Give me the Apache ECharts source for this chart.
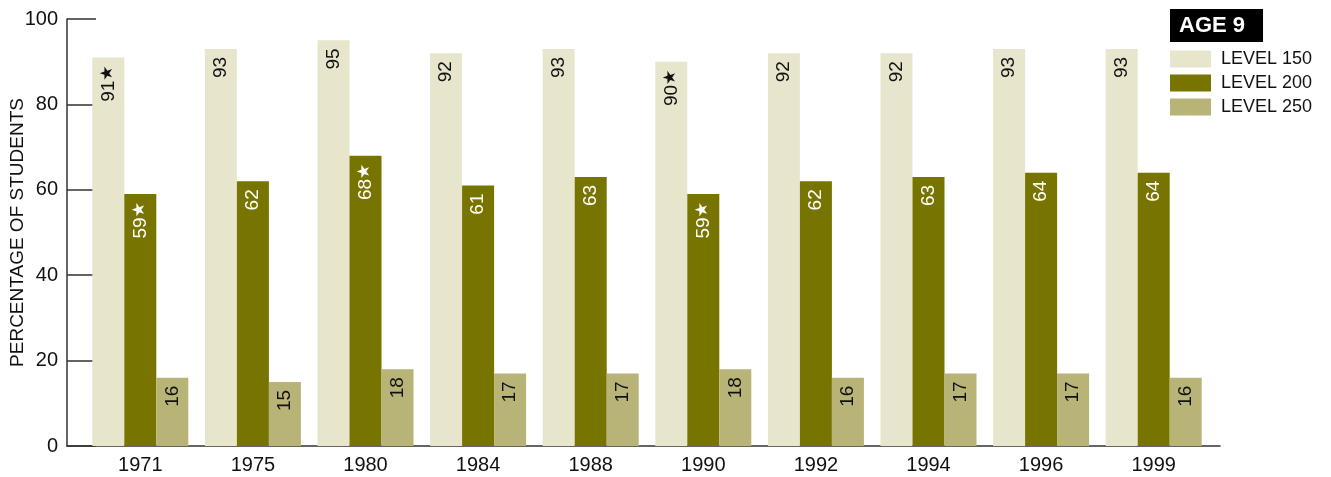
<!DOCTYPE html>
<html>
<head>
<meta charset="utf-8">
<script src="https://cdn.jsdelivr.net/npm/echarts@6/dist/echarts.min.js"></script>
<style>
html,body{margin:0;padding:0;background:#fff;}
#c{width:1331px;height:477px;}
</style>
</head>
<body>
<div id="c"></div>
<script>
var years = ['1971','1975','1980','1984','1988','1990','1992','1994','1996','1999'];
var level150 = [91,93,95,92,93,90,92,92,93,93];
var level200 = [59,62,68,61,63,59,62,63,64,64];
var level250 = [16,15,18,17,17,18,16,17,17,16];
var star150 = [1,0,0,0,0,1,0,0,0,0];
var star200 = [1,0,1,0,0,1,0,0,0,0];
var star250 = [0,0,0,0,0,0,0,0,0,0];
var yTicks = [0,20,40,60,80,100];

var FONT = '"Liberation Sans", Arial, sans-serif';
var colors = ['#E8E5CD', '#787400', '#B8B377'];

function makeLabel(stars, color) {
  return {
    show: true,
    position: 'insideTop',
    rotate: 90,
    align: 'right',
    verticalAlign: 'middle',
    distance: 8,
    color: color,
    fontFamily: FONT,
    fontSize: 19,
    formatter: function (p) {
      return '{n|' + p.value + '}' + (stars[p.dataIndex] ? '{s|★}' : '');
    },
    rich: {
      n: { fontSize: 19, fontFamily: FONT, color: color },
      s: { fontSize: 17, fontFamily: '"DejaVu Sans", sans-serif', color: color, verticalAlign: 'top', lineHeight: 19 }
    }
  };
}

var chart = echarts.init(document.getElementById('c'), null, {renderer: 'canvas'});
chart.setOption({
  animation: false,
  backgroundColor: '#fff',
  title: {
    text: 'AGE 9',
    left: 1170,
    top: 9,
    backgroundColor: '#000',
    padding: [6, 18, 5, 9],
    textStyle: { color: '#fff', fontFamily: FONT, fontWeight: 'bold', fontSize: 22 }
  },
  legend: {
    orient: 'vertical',
    left: 1170,
    top: 50,
    padding: 0,
    itemWidth: 41,
    itemHeight: 17,
    itemGap: 6,
    icon: 'rect',
    textStyle: { fontFamily: FONT, fontSize: 18, color: '#111', padding: [0, 0, 0, 5] },
    data: ['LEVEL 150', 'LEVEL 200', 'LEVEL 250']
  },
  grid: [
    { left: 84, right: 121, top: 19, bottom: 31, outerBoundsMode: 'none' },
    { left: 67, right: 111, top: 19, bottom: 31, outerBoundsMode: 'none' }
  ],
  xAxis: [
    {
      type: 'category', gridIndex: 0, data: years,
      axisLine: { show: false }, axisTick: { show: false },
      axisLabel: { fontFamily: FONT, fontSize: 20, color: '#111', margin: 9 }
    },
    {
      type: 'value', gridIndex: 1, min: 0, max: 1,
      axisLine: { show: true, lineStyle: { color: '#333', width: 1.5 } },
      axisTick: { show: false }, axisLabel: { show: false }, splitLine: { show: false }
    }
  ],
  yAxis: [
    {
      type: 'value', gridIndex: 0, min: 0, max: 100, interval: 20,
      show: false, splitLine: { show: false }
    },
    {
      type: 'value', gridIndex: 1, min: yTicks[0], max: yTicks[yTicks.length - 1], interval: 20,
      axisLine: { show: true, lineStyle: { color: '#333', width: 1.5 } },
      axisTick: { show: true, inside: true, length: 29, lineStyle: { color: '#333', width: 1.5 } },
      axisLabel: { fontFamily: FONT, fontSize: 20, color: '#111', margin: 9 },
      splitLine: { show: false },
      name: 'PERCENTAGE OF STUDENTS',
      nameLocation: 'middle',
      nameGap: 40,
      nameMoveOverlap: false,
      nameTextStyle: { fontFamily: FONT, fontSize: 19, color: '#111' }
    }
  ],
  series: [
    { name: 'LEVEL 150', type: 'bar', xAxisIndex: 0, yAxisIndex: 0, data: level150,
      barWidth: 32, barGap: '0%', itemStyle: { color: colors[0] }, label: makeLabel(star150, '#111') },
    { name: 'LEVEL 200', type: 'bar', xAxisIndex: 0, yAxisIndex: 0, data: level200,
      barWidth: 32, barGap: '0%', itemStyle: { color: colors[1] }, label: makeLabel(star200, '#fff') },
    { name: 'LEVEL 250', type: 'bar', xAxisIndex: 0, yAxisIndex: 0, data: level250,
      barWidth: 32, barGap: '0%', itemStyle: { color: colors[2] }, label: makeLabel(star250, '#111') }
  ]
});
</script>
</body>
</html>
